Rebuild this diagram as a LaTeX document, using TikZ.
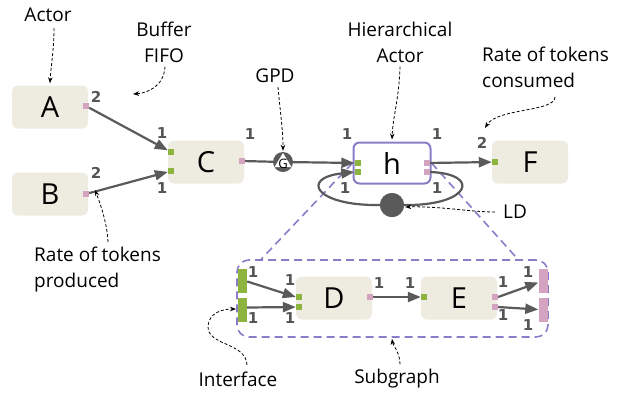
\documentclass[tikz,border=0pt]{standalone}
\usepackage{fontspec}
\setmainfont{Open Sans}
\newfontfamily\numfont{DejaVu Sans}
\usetikzlibrary{arrows.meta,calc}

\definecolor{boxfill}{HTML}{EEEBE0}
\definecolor{portgreen}{HTML}{8CB43F}
\definecolor{portpink}{HTML}{D4A3C0}
\definecolor{hierpurple}{HTML}{8C7CC8}
\definecolor{edgegray}{HTML}{5A5A5A}
\definecolor{rategray}{HTML}{555555}

\begin{document}
\begin{tikzpicture}[x=1pt,y=-1pt,
  actor/.style={fill=boxfill, rounded corners=6pt, minimum width=76pt,
    minimum height=43pt, inner sep=0pt, font=\fontsize{29}{29}\selectfont},
  hier/.style={actor, fill=white, draw=hierpurple, line width=2pt,
    minimum width=77pt, minimum height=41pt},
  inport/.style={fill=portgreen, minimum size=6pt, inner sep=0pt},
  outport/.style={fill=portpink, minimum size=6pt, inner sep=0pt},
  inbar/.style={fill=portgreen, minimum width=9pt, minimum height=24pt, inner sep=0pt},
  outbar/.style={fill=portpink, minimum width=9pt, minimum height=24pt, inner sep=0pt},
  rate/.style={font=\numfont\bfseries\fontsize{15}{15}\selectfont, text=rategray, inner sep=0pt},
  note/.style={font=\fontsize{19}{26}\selectfont, align=center, inner sep=0pt},
  flow/.style={draw=edgegray, line width=2.2pt,
    -{Triangle[length=13pt,width=10pt]}},
  plain/.style={draw=edgegray, line width=2.2pt},
  ann/.style={draw=black, line width=0.8pt, dash pattern=on 3pt off 2pt,
    -{Stealth[length=6pt,width=4.5pt]}},
  zoomline/.style={draw=hierpurple, line width=1.6pt, dash pattern=on 8pt off 5pt},
]
\useasboundingbox (0,0) rectangle (626,392);

% ---------- top level graph ----------
\node[actor] (A) at (50,107) {A};
\node[actor] (B) at (50,194) {B};
\node[actor] (C) at (206,162) {C};
\node[actor] (F) at (530,162) {F};

\node[outport] (Ao) at (86,106) {};
\node[outport] (Bo) at (86,194) {};
\node[inport] (Ci1) at (171,152) {};
\node[inport] (Ci2) at (171,171) {};
\node[outport] (Co) at (242,161) {};
\node[inport] (Fi) at (495,162) {};

% subgraph frame and its zoom lines
\node[draw=hierpurple, line width=1.6pt, dash pattern=on 8pt off 5pt,
  rounded corners=12pt, minimum width=311pt, minimum height=77pt, inner sep=0pt]
  (sub) at (392.5,298.5) {};

\node[hier] (h) at (392,163) {h};
\node[inport] (hi1) at (357.5,163) {};
\node[inport] (hi2) at (357.5,172) {};
\node[outport] (ho1) at (427,163) {};
\node[outport] (ho2) at (427,172) {};

\coordinate (zl) at ($(sub.north west)+(25,0)$);
\coordinate (zr) at ($(sub.north east)+(-31,0)$);
\draw[zoomline] (h.west) -- (zl);
\draw[zoomline] (h.east) -- (zr);

% GPD symbol
\node[circle, fill=edgegray, minimum size=20pt, inner sep=0pt] (gpd) at (283,162) {};
\fill[white] ($(gpd)+(0,-9)$) -- ($(gpd)+(-8.5,5)$) -- ($(gpd)+(8.5,5)$) -- cycle;
\node[font=\fontsize{13}{13}\selectfont, inner sep=0pt] (gpdG) at (283,163.5) {G};

% edges
\draw[flow] (Ao) -- (Ci1);
\draw[flow] (Bo) -- (Ci2);
\draw[plain] (Co) -- (gpd);
\draw[flow] (gpd) -- (hi1);
\draw[flow] (ho1) -- (Fi);

% delay loop around h
\node[circle, fill=edgegray, minimum size=24pt, inner sep=0pt] (ld) at (392,205) {};
\draw[plain] (ho2.east) .. controls (482,174) and (470,206) .. (ld.east);
\draw[flow] (ld.west) .. controls (315,206) and (300,178) .. (hi2.west);
\node[circle, fill=edgegray, minimum size=24pt, inner sep=0pt] at (ld) {};

% rates
\node[rate] at (96,97) {2};
\node[rate] at (96,173) {2};
\node[rate] at (162,133) {1};
\node[rate] at (162,188) {1};
\node[rate] at (250,134) {1};
\node[rate] at (347,134) {1};
\node[rate] at (437,134) {1};
\node[rate] at (345,188) {1};
\node[rate] at (437,188) {1};
\node[rate] at (482,143) {2};

% ---------- subgraph contents ----------
\node[actor] (D) at (334,298) {D};
\node[actor] (E) at (459,298) {E};
\node[inbar] (Li1) at (242.5,280.5) {};
\node[inbar] (Li2) at (242.5,309.5) {};
\node[outbar] (Ro1) at (543,280.5) {};
\node[outbar] (Ro2) at (543,309.5) {};
\node[inport] (Di1) at (299,297) {};
\node[inport] (Di2) at (299,307) {};
\node[outport] (Do) at (370,297) {};
\node[inport] (Ei) at (424,297) {};
\node[outport] (Eo1) at (495,297) {};
\node[outport] (Eo2) at (495,307) {};

\draw[flow] ($(Li1.east)+(0,1)$) -- (Di1.west);
\draw[flow] ($(Li2.east)+(0,-2)$) -- (Di2.west);
\draw[flow] (Do.east) -- (Ei.west);
\draw[flow] (Eo1.east) -- ($(Ro1.west)+(0,2)$);
\draw[flow] (Eo2.east) -- ($(Ro2.west)+(0,0)$);

\node[rate] at (253,272) {1};
\node[rate] at (290,280) {1};
\node[rate] at (253,318) {1};
\node[rate] at (290,318) {1};
\node[rate] at (379,283) {1};
\node[rate] at (410,283) {1};
\node[rate] at (503,282) {1};
\node[rate] at (528,272) {1};
\node[rate] at (503,315) {1};
\node[rate] at (528,325) {1};

% ---------- annotations ----------
\node[note] (tActor) at (48,15) {Actor};
\node[note] (tBuf) at (164,42) {Buffer\\FIFO};
\node[note] (tGPD) at (275,76) {GPD};
\node[note] (tHier) at (400,42) {Hierarchical\\Actor};
\node[note, align=left, anchor=west] (tCons) at (482,67) {Rate of tokens\\consumed};
\node[note, align=left, anchor=west] (tProd) at (34,270) {Rate of tokens\\produced};
\node[note, anchor=west] (tLD) at (503,212) {LD};
\node[note] (tIf) at (238,379) {Interface};
\node[note] (tSub) at (397,379) {Subgraph};

\coordinate (pA) at ($(A.north)+(0,-2)$);
\coordinate (pBuf) at (133,94);
\coordinate (pGPD) at ($(gpd.north)+(0,-1)$);
\coordinate (pH) at ($(h.north)+(0,-2)$);
\coordinate (pCons) at (485,128);
\coordinate (pProd) at (95,190);
\coordinate (pLD) at ($(ld.east)+(1,2)$);
\coordinate (pIf) at (236,309);
\coordinate (pSub) at ($(sub.south)+(-0.5,1)$);

\draw[ann] ($(tActor.south)+(6,6)$) .. controls (54,50) and (51,65) .. (pA);
\draw[ann] ($(tBuf.south)+(1,4)$) .. controls (164,86) and (148,93) .. (pBuf);
\draw[ann] ($(tGPD.south)+(3,4)$) .. controls (280,110) and (283,130) .. (pGPD);
\draw[ann] ($(tHier.south)+(0,4)$) .. controls (399,100) and (393,115) .. (pH);
\draw[ann] (555,97) .. controls (555,112) and (497,108) .. (pCons);
\draw[ann] (108,242) .. controls (107,222) and (100,203) .. (pProd);
\draw[ann] ($(tLD.west)+(-8,0)$) .. controls (470,212) and (440,206) .. (pLD);
\draw[ann] (247,365) .. controls (246,342) and (207,346) .. (208,326)
  .. controls (209,313) and (222,309) .. (pIf);
\draw[ann] ($(tSub.north)+(3,-5)$) .. controls (400,352) and (393,346) .. (pSub);
\end{tikzpicture}
\end{document}
